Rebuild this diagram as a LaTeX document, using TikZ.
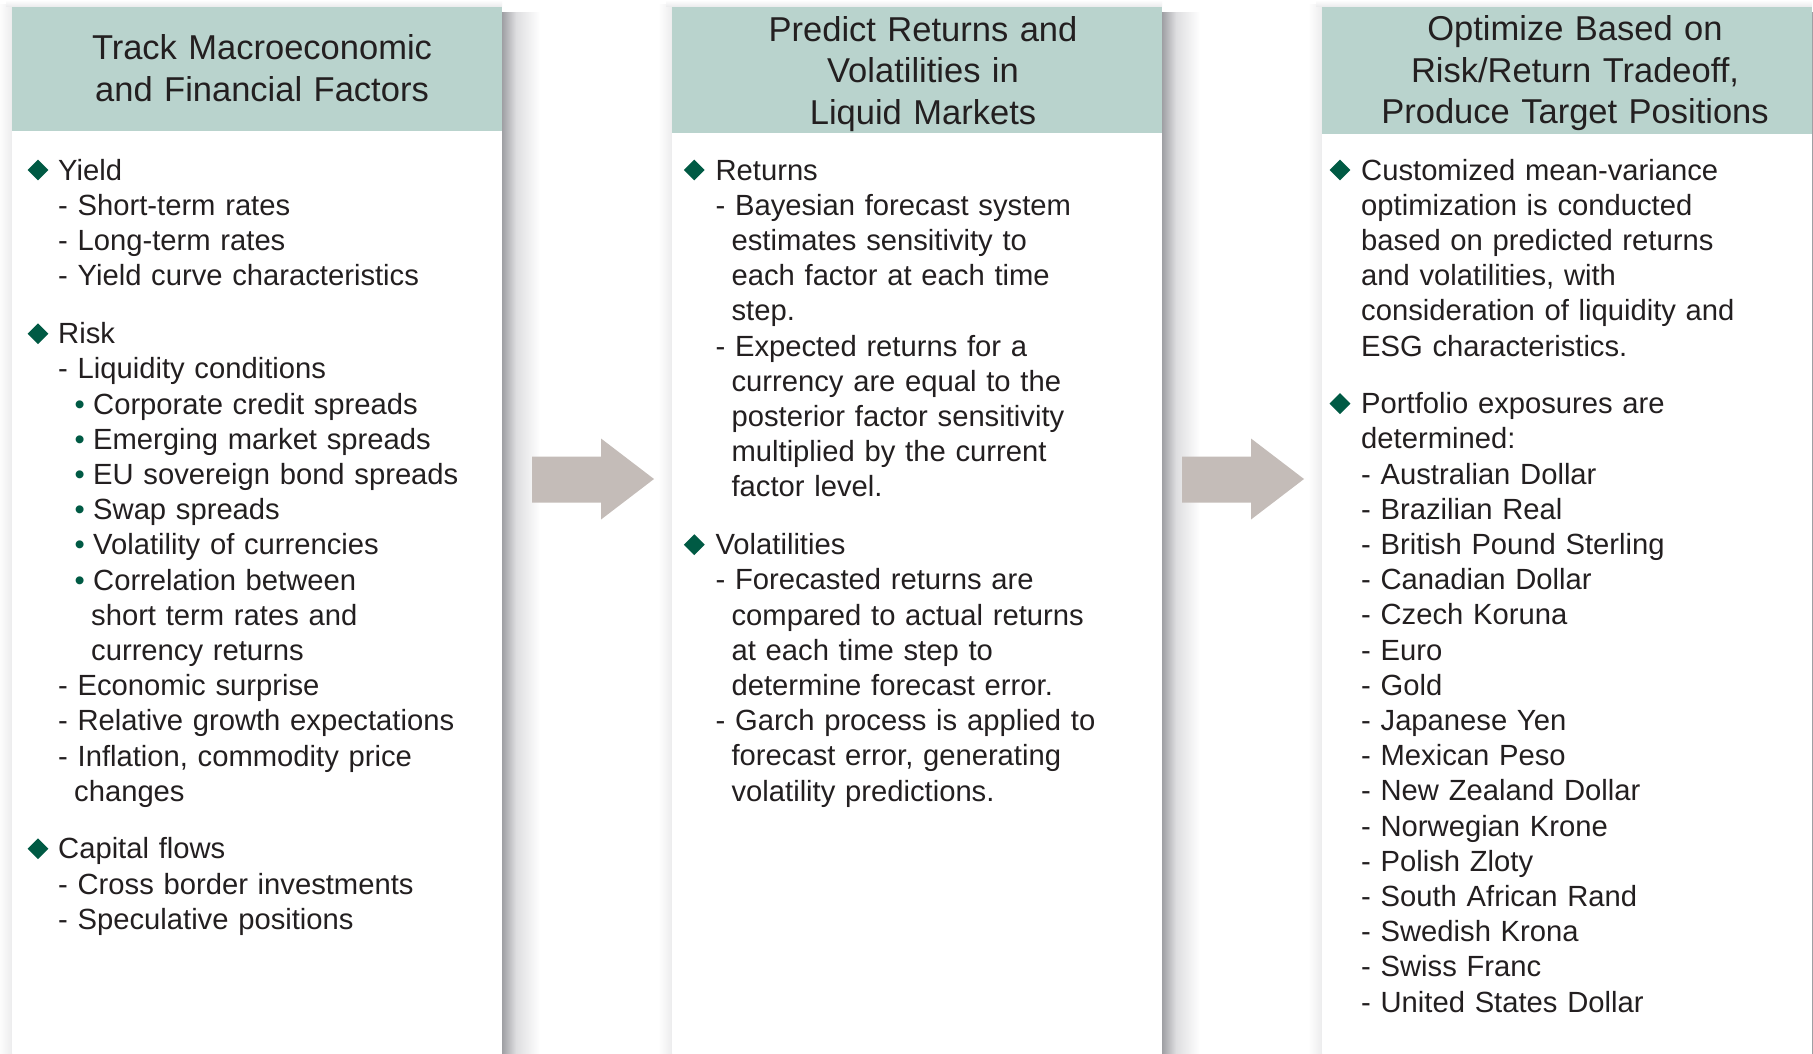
\documentclass[tikz,border=0pt]{standalone}
\usepackage{fontspec}
\setmainfont{Liberation Sans}
\usetikzlibrary{shapes.geometric}

\definecolor{headfill}{RGB}{185,211,205}
\definecolor{ink}{RGB}{35,31,32}
\definecolor{accent}{RGB}{0,90,68}
\definecolor{arrowfill}{RGB}{196,188,184}
\definecolor{shdark}{RGB}{158,159,163}
\definecolor{shmid}{RGB}{222,222,224}
\definecolor{shlight}{RGB}{236,236,237}

\newcommand\bodyfont{\fontsize{29.2pt}{35.2pt}\selectfont}
\newcommand\headfont{\fontsize{34.5pt}{41.5pt}\selectfont}
% one printed line, shifted right by #1
\newcommand\rowat[1]{\par\noindent\hspace*{#1}\ignorespaces}
% a round-bullet line and a dash-item continuation line
\newcommand\dotrow{\rowat{16.5pt}\makebox[18.5pt][l]{\textcolor{accent}{•}}}
\newcommand\controw{\rowat{16pt}}

\begin{document}
\begin{tikzpicture}[x=1pt, y=-1pt,
  headbox/.style={fill=headfill, inner sep=0pt, anchor=north west, minimum width=490pt},
  bodybox/.style={fill=white, inner sep=0pt, anchor=north west, minimum width=490pt},
  headtxt/.style={anchor=base, inner sep=0pt, text width=480pt, align=center, font=\headfont, text=ink},
  grp/.style={anchor=base west, inner sep=0pt, text width=445pt, align=left, font=\bodyfont, text=ink},
  gem/.style={diamond, fill=accent, inner sep=0pt, minimum width=21pt, minimum height=21pt},
  blockarrow/.style={fill=arrowfill}]

\useasboundingbox (0,0) rectangle (1813,1053);
\fill[white] (0,0) rectangle (1813,1053);

% soft drop shadows around the three panels
\foreach \L in {12,672,1322}{
  \shade[left color=white, right color=shlight] (\L-14,4) rectangle (\L,1053);
  \shade[top color=white, bottom color=shlight] (\L-6,0) rectangle (\L+490,6.5);
  \shade[left color=shdark, right color=shmid] (\L+490,12) rectangle (\L+504,1053);
  \shade[left color=shmid, right color=white] (\L+504,12) rectangle (\L+528,1053);
}

% panels: header band and white body
\node[headbox, minimum height=124.5pt] (h1) at (12,6.5) {};
\node[bodybox, minimum height=922pt] (b1) at (12,131) {};
\node[headbox, minimum height=126.5pt] (h2) at (672,6.5) {};
\node[bodybox, minimum height=920pt] (b2) at (672,133) {};
\node[headbox, minimum height=127.5pt] (h3) at (1322,6.5) {};
\node[bodybox, minimum height=919pt] (b3) at (1322,134) {};

% headings
\node[headtxt] (h1t) at (262,59.5) {Track Macroeconomic\\and Financial Factors};
\node[headtxt] (h2t) at (923,41) {Predict Returns and\\Volatilities in\\Liquid Markets};
\node[headtxt] (h3t) at (1575,40.5) {Optimize Based on\\Risk/Return Tradeoff,\\Produce Target Positions};

% block arrows between the stages
\fill[blockarrow] (532,456.5) -- (601,456.5) -- (601,438.5) -- (654,479)
  -- (601,519.5) -- (601,502.5) -- (532,502.5) -- cycle;
\fill[blockarrow] (1182,456.5) -- (1251,456.5) -- (1251,438.5) -- (1304,479)
  -- (1251,519.5) -- (1251,502.5) -- (1182,502.5) -- cycle;

% stage 1
\node[gem] (m1a) at (38,170) {};
\node[grp] (t1a) at (58,180) {Yield
  \rowat{0pt}- Short-term rates
  \rowat{0pt}- Long-term rates
  \rowat{0pt}- Yield curve characteristics};
\node[gem] (m1b) at (38,333.7) {};
\node[grp] (t1b) at (58,343.7) {Risk
  \rowat{0pt}- Liquidity conditions
  \dotrow Corporate credit spreads
  \dotrow Emerging market spreads
  \dotrow EU sovereign bond spreads
  \dotrow Swap spreads
  \dotrow Volatility of currencies
  \dotrow Correlation between
  \rowat{33pt}short term rates and
  \rowat{33pt}currency returns
  \rowat{0pt}- Economic surprise
  \rowat{0pt}- Relative growth expectations
  \rowat{0pt}- Inflation, commodity price
  \controw changes};
\node[gem] (m1c) at (38,848.8) {};
\node[grp] (t1c) at (58,858.8) {Capital flows
  \rowat{0pt}- Cross border investments
  \rowat{0pt}- Speculative positions};

% stage 2
\node[gem] (m2a) at (694.3,170) {};
\node[grp] (t2a) at (715.4,180) {Returns
  \rowat{0pt}- Bayesian forecast system
  \controw estimates sensitivity to
  \controw each factor at each time
  \controw step.
  \rowat{0pt}- Expected returns for a
  \controw currency are equal to the
  \controw posterior factor sensitivity
  \controw multiplied by the current
  \controw factor level.};
\node[gem] (m2b) at (694.3,544.7) {};
\node[grp] (t2b) at (715.4,554.7) {Volatilities
  \rowat{0pt}- Forecasted returns are
  \controw compared to actual returns
  \controw at each time step to
  \controw determine forecast error.
  \rowat{0pt}- Garch process is applied to
  \controw forecast error, generating
  \controw volatility predictions.};

% stage 3
\node[gem] (m3a) at (1340,170) {};
\node[grp] (t3a) at (1361,180) {Customized mean-variance
  \rowat{0pt}optimization is conducted
  \rowat{0pt}based on predicted returns
  \rowat{0pt}and volatilities, with
  \rowat{0pt}consideration of liquidity and
  \rowat{0pt}ESG characteristics.};
\node[gem] (m3b) at (1340,403.6) {};
\node[grp] (t3b) at (1361,413.6) {Portfolio exposures are
  \rowat{0pt}determined:
  \rowat{0pt}- Australian Dollar
  \rowat{0pt}- Brazilian Real
  \rowat{0pt}- British Pound Sterling
  \rowat{0pt}- Canadian Dollar
  \rowat{0pt}- Czech Koruna
  \rowat{0pt}- Euro
  \rowat{0pt}- Gold
  \rowat{0pt}- Japanese Yen
  \rowat{0pt}- Mexican Peso
  \rowat{0pt}- New Zealand Dollar
  \rowat{0pt}- Norwegian Krone
  \rowat{0pt}- Polish Zloty
  \rowat{0pt}- South African Rand
  \rowat{0pt}- Swedish Krona
  \rowat{0pt}- Swiss Franc
  \rowat{0pt}- United States Dollar};

\end{tikzpicture}
\end{document}
